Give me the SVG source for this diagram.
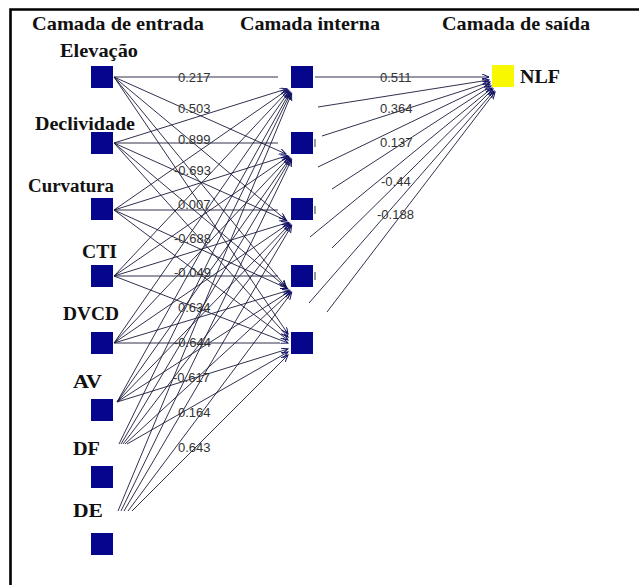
<svg xmlns="http://www.w3.org/2000/svg" width="639" height="585" viewBox="0 0 639 585">
<defs>
<marker id="ah" markerUnits="userSpaceOnUse" markerWidth="9" markerHeight="8" refX="7" refY="3" orient="auto">
<path d="M0,0 L7,3 L0,6" fill="none" stroke="#10106a" stroke-width="1"/>
</marker>
<style>
.hd{font-weight:bold;font-size:19px;fill:#111}
.lb{font-weight:bold;font-size:18px;fill:#111}
.w{font-size:13px;fill:#333}
.n{fill:#06068c}
.o{fill:#f8f800}
.c path{fill:none;stroke:#1a1a3a;stroke-width:0.9}
.c .a{marker-end:url(#ah)}
.c .t{stroke:#777;stroke-width:1.5}
</style>
</defs>
<rect width="639" height="585" fill="#fff"/>
<path d="M10.5,585 V9.5 H639" fill="none" stroke="#000" stroke-width="2.6"/>
<g id="headers" font-family="'Liberation Serif', 'DejaVu Serif', serif">
<text class="hd" x="32" y="30" textLength="172" lengthAdjust="spacingAndGlyphs">Camada de entrada</text>
<text class="hd" x="240" y="30" textLength="140" lengthAdjust="spacingAndGlyphs">Camada interna</text>
<text class="hd" x="442" y="30" textLength="148" lengthAdjust="spacingAndGlyphs">Camada de saída</text>
</g>
<g id="connectors" class="c">
<path d="M114,77 H278"/>
<path class="a" d="M114,77 L286,154"/>
<path class="a" d="M114,77 L286,220"/>
<path class="a" d="M114,77 L286,287"/>
<path class="a" d="M114,77 L288,334"/>
<path class="a" d="M114,143 L286.8,88.8"/>
<path d="M114,143 H278"/>
<path class="a" d="M114,143 L286.8,220.8"/>
<path class="a" d="M114,143 L286.8,287.8"/>
<path class="a" d="M114,143 L288,337"/>
<path class="a" d="M114,210 L287.6,89.6"/>
<path class="a" d="M114,210 L287.6,155.6"/>
<path d="M114,210 H278"/>
<path class="a" d="M114,210 L287.6,288.6"/>
<path class="a" d="M114,210 L288,340"/>
<path class="a" d="M114,276 L288.4,90.4"/>
<path class="a" d="M114,276 L288.4,156.4"/>
<path class="a" d="M114,276 L288.4,222.4"/>
<path d="M114,276 H278"/>
<path class="a" d="M114,276 L288,343"/>
<path class="a" d="M114,343 L289.2,91.2"/>
<path class="a" d="M114,343 L289.2,157.2"/>
<path class="a" d="M114,343 L289.2,223.2"/>
<path class="a" d="M114,343 L289.2,290.2"/>
<path d="M114,343 H280"/>
<path class="a" d="M117,402 L290,92"/>
<path class="a" d="M117,402 L290,158"/>
<path class="a" d="M117,402 L290,224"/>
<path class="a" d="M117,402 L290,291"/>
<path class="a" d="M117,402 L288,349"/>
<path class="a" d="M119,444 L290.8,92.8"/>
<path class="a" d="M121,444 L290.8,158.8"/>
<path class="a" d="M123,444 L290.8,224.8"/>
<path class="a" d="M125,444 L290.8,291.8"/>
<path class="a" d="M127,444 L288,352"/>
<path class="a" d="M118,511 L291.6,93.6"/>
<path class="a" d="M121,511 L291.6,159.6"/>
<path class="a" d="M124,511 L291.6,225.6"/>
<path class="a" d="M128,511 L291.6,292.6"/>
<path class="a" d="M132,511 L288,355"/>
<path class="a" d="M315,77 L489,77"/>
<path class="a" d="M318,107 L489,80"/>
<path class="a" d="M322,136 L490,82"/>
<path class="a" d="M318,167 L490,84"/>
<path class="a" d="M332,189 L491,86"/>
<path class="a" d="M310,237 L492,88"/>
<path class="a" d="M332,248 L493,89"/>
<path class="a" d="M309,303 L494,91"/>
<path class="a" d="M327,312 L495,92"/>
<path class="t" d="M315,139 V147"/>
<path class="t" d="M315,206 V214"/>
<path class="t" d="M315,272 V280"/>
</g>
<g id="weights" font-family="'Liberation Sans', Arial, sans-serif">
<text class="w" x="178" y="82">0.217</text>
<text class="w" x="178" y="113">0.503</text>
<text class="w" x="178" y="144">0.899</text>
<text class="w" x="174" y="175">-0.693</text>
<text class="w" x="178" y="209">0.007</text>
<text class="w" x="174" y="243">-0.688</text>
<text class="w" x="174" y="277">-0.049</text>
<text class="w" x="178" y="312">0.634</text>
<text class="w" x="174" y="347">-0.644</text>
<text class="w" x="173" y="382">-0.617</text>
<text class="w" x="178" y="417">0.164</text>
<text class="w" x="178" y="452">0.643</text>
<text class="w" x="380" y="82">0.511</text>
<text class="w" x="380" y="113">0.364</text>
<text class="w" x="380" y="147">0.137</text>
<text class="w" x="381" y="186">-0.44</text>
<text class="w" x="377" y="219">-0.188</text>
</g>
<g font-family="'Liberation Serif', 'DejaVu Serif', serif">
<g id="in-elevacao"><text class="lb" x="60" y="57" textLength="78" lengthAdjust="spacingAndGlyphs">Elevação</text><rect class="n" x="91" y="66" width="22" height="22"/></g>
<g id="in-declividade"><text class="lb" x="35" y="130" textLength="100" lengthAdjust="spacingAndGlyphs">Declividade</text><rect class="n" x="91" y="132" width="22" height="22"/></g>
<g id="in-curvatura"><text class="lb" x="28" y="192" textLength="86" lengthAdjust="spacingAndGlyphs">Curvatura</text><rect class="n" x="91" y="198" width="22" height="22"/></g>
<g id="in-cti"><text class="lb" x="82" y="258" textLength="35" lengthAdjust="spacingAndGlyphs">CTI</text><rect class="n" x="91" y="265" width="22" height="22"/></g>
<g id="in-dvcd"><text class="lb" x="63" y="320" textLength="56" lengthAdjust="spacingAndGlyphs">DVCD</text><rect class="n" x="91" y="332" width="22" height="22"/></g>
<g id="in-av"><text class="lb" x="73" y="388" textLength="29" lengthAdjust="spacingAndGlyphs">AV</text><rect class="n" x="91" y="399" width="22" height="22"/></g>
<g id="in-df"><text class="lb" x="73" y="455" textLength="27" lengthAdjust="spacingAndGlyphs">DF</text><rect class="n" x="91" y="466" width="22" height="22"/></g>
<g id="in-de"><text class="lb" x="73" y="517" textLength="30" lengthAdjust="spacingAndGlyphs">DE</text><rect class="n" x="91" y="533" width="22" height="22"/></g>
<g id="h1"><rect class="n" x="291" y="66" width="22" height="22"/></g>
<g id="h2"><rect class="n" x="291" y="132" width="22" height="22"/></g>
<g id="h3"><rect class="n" x="291" y="198" width="22" height="22"/></g>
<g id="h4"><rect class="n" x="291" y="265" width="22" height="22"/></g>
<g id="h5"><rect class="n" x="291" y="332" width="22" height="22"/></g>
<g id="out-nlf"><rect class="o" x="492" y="65" width="22" height="22"/><text class="lb" x="520" y="83" textLength="40" lengthAdjust="spacingAndGlyphs">NLF</text></g>
</g>
</svg>
